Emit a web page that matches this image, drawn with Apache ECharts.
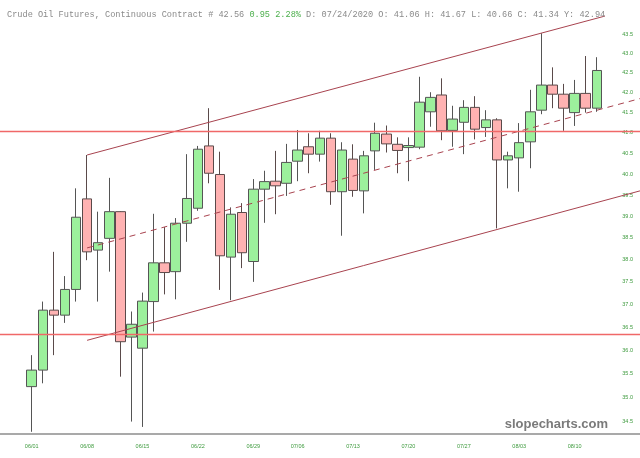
<!DOCTYPE html>
<html>
<head>
<meta charset="utf-8">
<script src="https://cdn.jsdelivr.net/npm/echarts@6/dist/echarts.min.js"></script>
<style>
  html, body { margin: 0; padding: 0; background: #fff; }
  #chart { width: 640px; height: 458px; }
</style>
</head>
<body>
<div id="chart"></div>
<script>
// trading days (MM/DD), 2020
const dates = [
  '06/01','06/02','06/03','06/04','06/05',
  '06/08','06/09','06/10','06/11','06/12',
  '06/15','06/16','06/17','06/18','06/19',
  '06/22','06/23','06/24','06/25','06/26',
  '06/29','06/30','07/01','07/02',
  '07/06','07/07','07/08','07/09','07/10',
  '07/13','07/14','07/15','07/16','07/17',
  '07/20','07/21','07/22','07/23','07/24',
  '07/27','07/28','07/29','07/30','07/31',
  '08/03','08/04','08/05','08/06','08/07',
  '08/10','08/11','08/12'
];
const opens  = [35.22,35.57,36.87,36.76,37.33, 39.41,38.22,38.49,39.11,36.28,
                36.04,37.06,37.93,37.73,38.84, 39.19,40.68,39.99,38.06,39.09,
                37.96,39.64,39.83,39.78, 40.31,40.66,40.48,40.87,39.58,
                40.36,39.60,40.56,40.97,40.72, 40.64,40.65,41.52,41.94,41.06,
                41.26,41.63,41.13,41.32,40.34, 40.39,40.78,41.56,42.19,41.96,
                41.50,41.98,41.61];
const closes = [35.57,36.87,36.76,37.33,38.98, 38.18,38.39,39.11,36.18,36.56,
                37.07,37.93,37.71,38.84,39.42, 40.60,40.02,38.09,39.05,38.16,
                39.64,39.82,39.72,40.28, 40.58,40.48,40.87,39.58,40.58,
                39.61,40.44,40.99,40.73,40.57, 40.69,41.76,41.88,41.05,41.34,
                41.63,41.09,41.32,40.34,40.44, 40.76,41.52,42.19,41.96,41.61,
                41.98,41.61,42.56];
const lows   = [34.28,35.29,35.89,36.59,37.06, 37.99,37.06,37.73,35.43,34.49,
                34.38,36.40,37.22,37.11,38.41, 39.13,39.78,37.32,37.09,37.81,
                37.50,38.85,39.05,39.48, 39.83,40.02,40.30,39.27,38.55,
                39.46,39.07,40.10,40.52,40.02, 39.83,40.60,41.15,40.82,40.66,
                40.48,40.84,40.90,38.72,39.66, 39.58,40.14,41.46,41.61,41.05,
                41.17,41.50,41.52];
const highs  = [35.89,37.06,38.18,37.63,39.66, 40.46,39.11,39.91,39.12,36.84,
                37.26,39.06,38.75,38.96,40.48, 40.68,41.61,40.54,39.21,39.31,
                39.88,40.08,40.56,40.73, 41.07,40.99,41.05,40.99,40.77,
                40.72,40.56,41.25,41.18,40.89, 40.89,42.40,42.01,42.36,41.67,
                41.81,41.91,41.56,41.36,40.54, 41.24,42.07,43.52,42.64,42.22,
                42.32,42.93,42.90];

const weekLabels = ['06/01','06/08','06/15','06/22','06/29','07/06','07/13','07/20','07/27','08/03','08/10'];
const priceTicks = [34.5,35.0,35.5,36.0,36.5,37.0,37.5,38.0,38.5,39.0,39.5,40.0,40.5,41.0,41.5,42.0,42.5,43.0,43.5];

// drawn lines: [trading-day index, price]
const channelTop = [[5, 40.46], [51.74, 43.97]];
const channelMid = [[5, 38.27], [54.9, 41.85]];
const channelBot = [[5, 36.21], [54.9, 39.60]];
const levels = [41.05, 36.35];

const lastClose = 42.56, prevClose = 41.61, yHigh = 42.94;
const headerDay = '07/24';

// header
const hi = dates.indexOf(headerDay);
const chg = lastClose - prevClose;
const header = 'Crude Oil Futures, Continuous Contract # ' + lastClose.toFixed(2) + ' ' +
  '{g|' + chg.toFixed(2) + ' ' + (chg / prevClose * 100).toFixed(2) + '%}' +
  ' D: ' + headerDay + '/2020 O: ' + opens[hi].toFixed(2) + ' H: ' + highs[hi].toFixed(2) +
  ' L: ' + lows[hi].toFixed(2) + ' C: ' + closes[hi].toFixed(2) + ' Y: ' + yHigh.toFixed(2);

const candles = dates.map((d, i) => [i, opens[i], closes[i], lows[i], highs[i]]);

// y scale: log, 43.5 sits at y=34, 1670px per unit of ln
const yMin = 43.5 * Math.exp(-(434 - 34) / 1670);
const yMax = 43.5 * Math.exp(34 / 1670);

const green = '#3d9a3d';
const lineRed = '#a8434f';

const chart = echarts.init(document.getElementById('chart'));
chart.setOption({
  animation: false,
  backgroundColor: '#fff',
  title: {
    text: header,
    left: 2,
    top: 5,
    textStyle: {
      fontFamily: 'Liberation Mono',
      fontSize: 8.6,
      fontWeight: 'normal',
      color: '#8a8a8a',
      rich: { g: { color: '#4caf4c', fontFamily: 'Liberation Mono', fontSize: 8.6 } }
    }
  },
  graphic: [{
    type: 'text',
    right: 32,
    top: 418,
    style: { text: 'slopecharts.com', font: 'bold 13px "Liberation Sans"', fill: '#7a7a7a' }
  }],
  grid: { left: 0, right: 0, top: 0, bottom: 24, outerBoundsMode: 'none' },
  xAxis: {
    type: 'value',
    min: -31.7 / 11.08,
    max: (640 - 31.7) / 11.08,
    splitLine: { show: false },
    axisTick: { show: false },
    axisLine: { lineStyle: { color: '#8c8c8c', width: 1.5 } },
    axisLabel: {
      customValues: weekLabels.map(w => dates.indexOf(w)),
      formatter: v => dates[Math.round(v)],
      color: green,
      fontSize: 5.5,
      margin: 9,
      fontFamily: 'Liberation Sans'
    }
  },
  yAxis: {
    type: 'log',
    position: 'right',
    min: yMin,
    max: yMax,
    splitLine: { show: false },
    axisTick: { show: false },
    axisLine: { show: false },
    axisLabel: {
      inside: true,
      margin: 7,
      customValues: priceTicks,
      formatter: v => Number(v).toFixed(1),
      color: green,
      fontSize: 5.5,
      fontFamily: 'Liberation Sans'
    }
  },
  series: [
    {
      type: 'candlestick',
      data: candles,
      barWidth: 10,
      itemStyle: {
        color: '#9cf09c',
        color0: '#ffb2b2',
        borderColor: '#555',
        borderColor0: '#5a4a4a',
        borderWidth: 1
      },
      markLine: {
        silent: true,
        symbol: 'none',
        label: { show: false },
        lineStyle: { color: '#f06868', width: 1.3, type: 'solid', opacity: 1 },
        data: levels.map(v => ({ yAxis: v }))
      },
      z: 2
    },
    {
      type: 'line', data: channelTop, symbol: 'none', silent: true, z: 3,
      lineStyle: { color: lineRed, width: 1 }
    },
    {
      type: 'line', data: channelMid, symbol: 'none', silent: true, z: 3,
      lineStyle: { color: lineRed, width: 1, type: [6, 5] }
    },
    {
      type: 'line', data: channelBot, symbol: 'none', silent: true, z: 3,
      lineStyle: { color: lineRed, width: 1 }
    }
  ]
});
</script>
</body>
</html>
